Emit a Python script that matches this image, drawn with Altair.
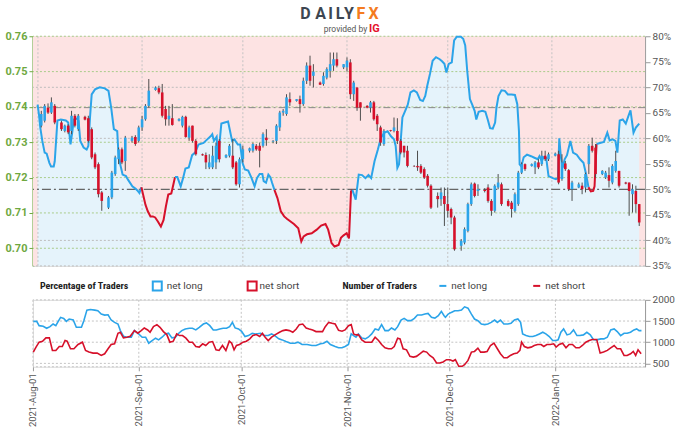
import altair as alt
import pandas as pd

# ---------------- candles (AUD/USD daily) ----------------
candle_date = [
    "2021-08-02","2021-08-03","2021-08-04","2021-08-05","2021-08-06","2021-08-08","2021-08-09","2021-08-10","2021-08-11","2021-08-12","2021-08-13",
    "2021-08-15","2021-08-16","2021-08-17","2021-08-18","2021-08-19","2021-08-20","2021-08-22","2021-08-23","2021-08-24","2021-08-25","2021-08-26","2021-08-27",
    "2021-08-29","2021-08-30","2021-08-31","2021-09-01","2021-09-02","2021-09-03","2021-09-05","2021-09-06","2021-09-07","2021-09-08","2021-09-09","2021-09-10",
    "2021-09-12","2021-09-13","2021-09-14","2021-09-15","2021-09-16","2021-09-17","2021-09-19","2021-09-20","2021-09-21","2021-09-22","2021-09-23","2021-09-24",
    "2021-09-26","2021-09-27","2021-09-28","2021-09-29","2021-09-30","2021-10-01","2021-10-03","2021-10-04","2021-10-05","2021-10-06","2021-10-07","2021-10-08",
    "2021-10-10","2021-10-11","2021-10-12","2021-10-13","2021-10-14","2021-10-15","2021-10-17","2021-10-18","2021-10-19","2021-10-20","2021-10-21","2021-10-22",
    "2021-10-24","2021-10-25","2021-10-26","2021-10-27","2021-10-28","2021-10-29","2021-10-31","2021-11-01","2021-11-02","2021-11-03","2021-11-04","2021-11-05",
    "2021-11-07","2021-11-08","2021-11-09","2021-11-10","2021-11-11","2021-11-12","2021-11-14","2021-11-15","2021-11-16","2021-11-17","2021-11-18","2021-11-19",
    "2021-11-21","2021-11-22","2021-11-23","2021-11-24","2021-11-25","2021-11-26","2021-11-28","2021-11-29","2021-11-30","2021-12-01","2021-12-02","2021-12-03",
    "2021-12-05","2021-12-06","2021-12-07","2021-12-08","2021-12-09","2021-12-10","2021-12-12","2021-12-13","2021-12-14","2021-12-15","2021-12-16","2021-12-17",
    "2021-12-19","2021-12-20","2021-12-21","2021-12-22","2021-12-23","2021-12-24","2021-12-26","2021-12-27","2021-12-28","2021-12-29","2021-12-30","2021-12-31",
    "2022-01-02","2022-01-03","2022-01-04","2022-01-05","2022-01-06","2022-01-07","2022-01-09","2022-01-10","2022-01-11","2022-01-12","2022-01-13","2022-01-14",
    "2022-01-16","2022-01-17","2022-01-18","2022-01-19","2022-01-20","2022-01-21","2022-01-23","2022-01-24","2022-01-25","2022-01-26","2022-01-27",
]
candle_open = [
    .7347,.7361,.7398,.7384,.7403,.7356,.7332,.7347,.7332,.7375,.7337,
    .7372,.7368,.7337,.7266,.7238,.7158,.7115,.7144,.7210,.7252,.7280,.7247,
    .7304,.7315,.7304,.7342,.7365,.7403,.7448,.7453,.7441,.7394,.7365,.7368,
    .7361,.7347,.7372,.7313,.7347,.7304,.7266,.7264,.7229,.7229,.7243,.7304,
    .7257,.7262,.7262,.7243,.7181,.7252,.7276,.7276,.7290,.7290,.7290,.7313,
    .7302,.7304,.7342,.7384,.7380,.7422,.7417,.7422,.7408,.7474,.7517,.7488,
    .7469,.7465,.7483,.7502,.7517,.7535,.7512,.7512,.7526,.7436,.7455,.7413,
    .7403,.7398,.7413,.7375,.7342,.7295,.7334,.7332,.7332,.7304,.7290,.7276,
    .7233,.7233,.7233,.7224,.7205,.7177,.7148,.7139,.7148,.7125,.7111,.7087,
    .7007,.7016,.7049,.7125,.7183,.7162,.7165,.7172,.7134,.7106,.7172,.7181,
    .7134,.7129,.7106,.7125,.7214,.7238,.7233,.7229,.7243,.7238,.7262,.7252,
    .7262,.7266,.7196,.7240,.7221,.7167,.7172,.7177,.7172,.7238,.7290,.7285,
    .7210,.7200,.7207,.7186,.7219,.7219,.7186,.7186,.7153,.7162,.7125,
]
candle_high = [
    .7389,.7408,.7410,.7427,.7408,.7361,.7350,.7351,.7389,.7380,.7380,
    .7375,.7375,.7342,.7271,.7243,.7162,.7148,.7219,.7262,.7285,.7285,.7318,
    .7318,.7320,.7347,.7375,.7408,.7479,.7458,.7460,.7465,.7403,.7403,.7408,
    .7368,.7375,.7375,.7347,.7347,.7309,.7268,.7271,.7266,.7290,.7299,.7309,
    .7266,.7295,.7309,.7247,.7257,.7290,.7285,.7299,.7295,.7299,.7328,.7337,
    .7306,.7351,.7389,.7394,.7436,.7441,.7422,.7432,.7483,.7526,.7545,.7521,
    .7472,.7498,.7512,.7554,.7554,.7554,.7521,.7540,.7535,.7474,.7455,.7413,
    .7405,.7417,.7417,.7380,.7347,.7337,.7335,.7370,.7368,.7309,.7290,.7290,
    .7235,.7276,.7238,.7229,.7210,.7181,.7158,.7172,.7172,.7172,.7115,.7092,
    .7026,.7059,.7129,.7186,.7186,.7181,.7170,.7181,.7139,.7181,.7210,.7186,
    .7139,.7134,.7158,.7219,.7243,.7240,.7240,.7247,.7252,.7276,.7276,.7271,
    .7271,.7276,.7266,.7247,.7224,.7191,.7186,.7186,.7214,.7295,.7313,.7295,
    .7221,.7219,.7229,.7238,.7276,.7219,.7188,.7186,.7181,.7177,.7125,
]
candle_low = [
    .7342,.7356,.7380,.7380,.7351,.7332,.7328,.7323,.7323,.7342,.7332,
    .7362,.7299,.7252,.7224,.7144,.7106,.7111,.7139,.7205,.7238,.7238,.7219,
    .7299,.7290,.7299,.7332,.7361,.7398,.7446,.7436,.7370,.7347,.7347,.7347,
    .7359,.7342,.7313,.7304,.7299,.7262,.7262,.7224,.7224,.7224,.7224,.7243,
    .7255,.7257,.7224,.7177,.7172,.7243,.7271,.7271,.7276,.7229,.7285,.7290,
    .7297,.7295,.7332,.7375,.7375,.7403,.7415,.7384,.7403,.7465,.7460,.7455,
    .7462,.7460,.7478,.7483,.7502,.7512,.7507,.7500,.7422,.7417,.7389,.7361,
    .7396,.7384,.7361,.7332,.7290,.7290,.7330,.7328,.7295,.7266,.7257,.7229,
    .7230,.7219,.7210,.7196,.7172,.7111,.7115,.7120,.7063,.7087,.7068,.6993,
    .6993,.7011,.7045,.7120,.7144,.7148,.7158,.7129,.7092,.7101,.7167,.7120,
    .7118,.7087,.7101,.7120,.7210,.7219,.7231,.7210,.7224,.7233,.7247,.7247,
    .7260,.7181,.7191,.7219,.7162,.7134,.7170,.7153,.7158,.7210,.7271,.7200,
    .7207,.7196,.7172,.7181,.7214,.7172,.7181,.7092,.7101,.7101,.7063,
]
candle_close = [
    .7380,.7403,.7384,.7413,.7356,.7337,.7347,.7328,.7375,.7347,.7375,
    .7364,.7304,.7257,.7229,.7153,.7134,.7144,.7214,.7257,.7280,.7243,.7313,
    .7313,.7295,.7342,.7365,.7403,.7446,.7455,.7441,.7375,.7365,.7375,.7349,
    .7366,.7372,.7315,.7342,.7304,.7266,.7263,.7243,.7243,.7262,.7290,.7252,
    .7264,.7290,.7229,.7181,.7252,.7280,.7283,.7295,.7280,.7276,.7323,.7306,
    .7304,.7347,.7384,.7389,.7427,.7413,.7422,.7408,.7474,.7517,.7474,.7500,
    .7463,.7488,.7507,.7521,.7535,.7517,.7521,.7531,.7436,.7469,.7398,.7398,
    .7398,.7413,.7365,.7351,.7299,.7332,.7332,.7342,.7304,.7271,.7271,.7233,
    .7232,.7229,.7214,.7200,.7177,.7115,.7139,.7158,.7125,.7106,.7087,.6997,
    .7021,.7054,.7125,.7181,.7148,.7167,.7162,.7134,.7106,.7177,.7186,.7125,
    .7120,.7111,.7153,.7214,.7238,.7224,.7238,.7243,.7229,.7262,.7252,.7266,
    .7268,.7186,.7243,.7224,.7167,.7186,.7181,.7167,.7210,.7290,.7276,.7210,
    .7219,.7214,.7191,.7233,.7247,.7177,.7183,.7162,.7167,.7125,.7073,
]

# ---------------- client sentiment: % of traders net long (days after 2021-08-01) ----------------
sent_day = [
    -0.1,0.3,0.7,1.3,2.0,2.6,3.4,3.9,4.7,5.0,5.4,5.8,6.8,8.3,9.0,9.7,10.2,10.7,11.7,12.1,12.6,13.6,14.5,15.0,15.5,16.0,17.0,18.4,19.9,21.0,
    21.8,22.6,23.6,23.9,24.5,25.2,26.2,26.8,28.1,29.1,29.6,30.2,30.8,
    31.3,32.0,32.7,33.5,34.2,34.9,35.7,36.6,37.4,38.1,38.8,39.7,40.3,40.8,
    41.5,42.5,43.2,43.9,44.9,45.9,46.8,47.8,49.3,50.4,51.4,51.9,52.4,53.2,53.6,54.6,55.6,56.6,57.2,57.8,58.5,59.5,60.2,60.9,61.6,62.6,63.6,
    64.5,65.2,66.0,66.8,67.2,67.9,68.6,69.2,69.7,70.4,
    71.3,72.3,73.3,74.2,75.2,76.2,77.5,78.4,79.1,80.1,81.5,83.0,84.3,85.6,86.4,87.4,88.3,89.5,90.2,91.0,91.9,92.6,93.2,93.6,
    94.6,95.5,96.5,97.5,98.4,99.2,100.2,101.2,102.1,103.1,104.1,105.1,106.0,106.5,107.0,107.5,108.0,108.5,109.2,110.1,110.9,111.9,112.8,
    113.8,114.6,115.3,115.9,116.7,117.5,118.5,119.6,120.3,121.0,121.6,122.3,123.2,123.9,124.7,125.9,126.6,127.2,127.8,128.6,129.4,130.0,
    130.5,131.2,132.3,133.2,133.9,134.6,135.4,136.1,136.5,137.1,138.0,139.0,139.9,141.0,142.0,142.7,143.2,143.4,143.9,144.6,145.6,146.8,
    147.8,148.8,149.3,150.0,150.5,151.3,152.0,153.3,154.2,154.8,155.2,155.7,156.2,156.8,157.5,158.5,159.3,160.4,161.4,162.4,163.2,163.9,
    164.6,165.3,165.7,166.3,
    167.3,168.5,169.5,170.2,171.1,171.9,172.5,173.2,174.1,175.0,175.8,176.4,177.3,178.0,179.0,
]
sent_pct = [
    66.6,64.7,62.1,59.5,57.2,57.0,55.2,54.5,54.5,55.5,59.5,63.5,63.7,63.5,63.1,58.8,61.1,63.7,63.9,63.4,59.5,58.2,57.8,58.5,64.1,68.6,69.6,70.0,69.8,69.3,
    66.0,61.8,61.4,57.8,54.9,52.9,52.6,51.9,50.6,50.1,49.8,49.3,50.4,
    49.0,47.0,45.7,44.7,44.7,44.5,43.7,42.7,44.0,46.7,49.0,49.2,50.9,52.4,
    52.4,50.6,52.2,54.1,54.3,56.7,57.2,58.8,59.1,59.8,60.4,60.8,59.5,60.3,55.9,62.9,63.1,63.3,61.4,59.5,59.8,58.8,58.8,55.2,53.9,53.7,52.2,
    50.6,52.2,53.0,53.0,51.6,51.3,52.9,52.4,51.3,49.9,
    48.3,45.7,44.7,44.2,43.7,43.2,42.4,39.8,40.8,41.2,41.4,42.1,42.9,43.2,42.1,39.5,38.8,39.1,40.5,41.0,41.4,40.4,49.6,49.9,
    48.0,52.9,52.8,52.2,52.8,52.2,55.5,57.8,60.1,61.1,61.4,60.4,59.8,58.5,54.2,54.9,59.5,64.1,65.2,66.6,69.0,69.4,69.0,
    67.5,67.3,68.3,70.3,72.6,75.2,75.9,75.5,75.1,74.6,72.9,74.6,74.9,79.2,79.9,79.9,79.5,78.2,73.2,67.7,66.4,65.4,
    63.7,65.2,65.4,65.2,63.7,62.0,61.9,63.1,66.0,68.3,69.4,69.3,68.6,68.6,68.5,66.7,61.4,54.9,54.5,56.3,56.8,56.5,
    56.2,55.9,56.5,55.5,56.3,56.2,52.6,52.2,52.0,52.2,60.0,56.2,54.2,55.9,56.7,59.5,57.2,56.8,55.9,55.2,52.9,50.4,
    49.6,49.7,50.6,58.9,
    59.1,59.3,61.1,59.6,59.8,59.5,57.2,63.5,63.7,62.9,64.4,65.5,61.1,62.1,62.9,
]
sent_side = (["long"] * 43 + ["short"] * 14 + ["long"] * 37 + ["short"] * 24
             + ["long"] * 89 + ["short"] * 4 + ["long"] * 15)

# ---------------- number of traders (days after 2021-08-01) ----------------
long_day = [
    0.1,1.1,1.8,3.0,4.0,5.0,5.9,6.7,7.4,8.1,9.0,9.8,10.6,11.8,12.7,14.2,14.9,15.8,16.8,18.1,19.0,20.0,21.0,22.0,22.9,23.9,24.9,25.6,26.5,27.5,
    28.8,29.7,30.7,32.0,33.0,33.9,34.9,35.9,36.8,37.8,38.8,39.7,40.7,41.7,42.7,43.6,44.6,45.8,46.7,47.7,48.7,49.9,50.8,51.8,52.8,53.7,54.7,
    55.7,56.7,57.6,58.4,59.2,60.2,61.1,62.1,63.1,64.2,65.2,66.7,67.6,68.9,69.9,70.8,72.0,73.0,74.1,75.4,76.7,77.6,78.8,80.3,81.7,82.9,84.2,
    85.1,86.1,87.1,88.5,89.5,90.5,91.4,92.4,93.2,93.9,94.6,95.3,96.3,97.3,98.2,99.2,100.2,101.2,102.1,103.1,104.1,105.0,106.0,106.8,107.8,
    108.7,109.7,110.7,111.7,112.6,113.8,114.8,115.7,116.7,117.7,118.7,119.6,120.4,120.8,121.6,122.5,123.5,124.5,125.5,126.4,127.4,128.4,
    129.3,130.3,131.3,132.3,133.2,134.2,135.2,136.0,136.9,137.9,139.1,140.0,141.0,142.0,142.8,143.4,144.4,145.4,146.4,147.3,148.3,149.3,
    150.2,151.2,152.2,153.2,153.8,154.6,155.4,156.4,157.3,158.3,159.3,160.2,161.2,162.2,163.2,164.1,165.1,166.3,167.2,168.2,169.2,170.2,
    171.1,172.1,173.1,174.0,175.0,176.0,176.8,177.5,178.2,
]
long_cnt = [
    1493,1493,1391,1376,1329,1368,1430,1391,1493,1587,1563,1493,1548,1524,1352,1352,1509,1758,1774,1758,1743,1665,1641,1649,1524,1469,1430,1274,1141,1118,
    1118,1274,1212,1118,1118,977,1040,1095,1055,1118,1196,1212,1102,1118,1212,1274,1313,1329,1329,1290,1352,1430,1454,1391,1290,1290,1313,
    1329,1329,1368,1469,1337,1313,1259,1134,1157,1212,1196,1212,1157,1157,1196,1157,1079,1055,1016,977,977,1001,946,946,923,923,962,
    977,1024,946,899,868,868,899,946,1196,1157,1118,1196,1102,1079,1118,1196,1313,1290,1415,1274,1274,1337,1290,1368,1524,
    1563,1509,1509,1563,1641,1641,1665,1680,1587,1571,1626,1727,1626,1587,1665,1704,1743,1743,1758,1836,1805,1665,
    1548,1509,1430,1415,1430,1469,1524,1469,1524,1430,1430,1446,1524,1548,1469,1196,1157,1134,1134,1157,1196,1235,
    1196,1134,1040,1040,1055,1235,1313,1173,1196,1290,1157,1157,1173,1235,1173,1063,1055,1079,1079,1118,1290,1313,
    1251,1157,1212,1212,1235,1290,1313,1274,1274,
]
short_day = [
    0.1,0.9,1.8,2.8,3.8,4.8,5.7,6.7,7.7,8.6,9.4,10.0,11.0,12.0,13.2,14.5,15.4,16.4,17.6,18.8,20.0,21.0,22.0,22.9,23.9,24.9,25.6,26.5,27.5,28.5,
    29.7,30.7,31.7,32.6,33.6,34.3,35.3,36.3,37.2,38.2,39.2,40.1,41.1,42.1,42.9,43.8,44.8,45.8,46.7,47.7,48.7,49.7,50.6,51.6,52.6,53.6,54.5,
    55.5,56.5,57.5,58.2,58.9,59.6,60.5,61.5,62.5,63.5,64.4,65.4,66.4,67.2,68.0,68.9,69.9,71.0,72.2,73.2,74.1,75.1,76.1,77.1,78.0,79.0,80.0,
    80.9,81.9,82.9,83.9,84.8,85.6,86.6,87.6,88.5,89.5,90.5,91.4,92.4,93.2,93.9,94.6,95.3,96.3,97.3,98.2,99.2,100.2,101.2,102.1,103.1,104.1,
    105.0,105.8,106.8,107.5,108.4,109.4,110.4,111.4,112.3,113.3,114.3,115.3,116.2,117.2,118.2,119.1,120.1,121.1,122.1,123.0,123.7,124.7,
    125.7,126.4,127.4,128.4,129.3,130.3,131.1,132.1,133.0,134.0,135.0,136.0,136.9,137.9,138.9,139.8,140.8,141.8,142.6,143.1,143.9,144.9,
    145.9,146.8,147.8,148.8,149.6,150.5,151.5,152.5,153.2,154.1,155.1,156.1,157.0,158.0,159.0,160.0,160.9,161.9,162.9,163.8,165.1,166.1,
    167.1,168.2,169.2,170.2,171.1,172.1,173.1,174.0,175.0,175.8,176.5,177.2,178.1,
]
short_cnt = [
    767,884,1001,1024,1102,1102,806,806,899,899,1040,1024,845,845,946,1001,806,767,743,743,688,727,845,946,962,1212,1235,1102,1118,1141,
    1274,1212,1274,1337,1290,1235,1368,1415,1352,1251,1180,1001,1024,1196,1157,1157,1095,1001,1001,899,884,962,923,1001,1016,821,806,
    923,806,1024,977,821,923,946,1001,1024,1079,1157,1180,1134,1212,1118,1040,1118,1180,1235,1274,1290,1274,1235,1313,1415,1430,1337,
    1313,1290,1251,1251,1251,1368,1469,1446,1430,1280,1259,1290,1391,1415,1196,1173,1180,1055,1001,1001,1001,1118,1040,946,868,845,
    845,899,1095,1079,845,821,665,649,665,727,790,767,688,634,509,509,532,587,587,556,587,431,
    431,470,571,767,782,860,767,767,782,923,977,845,727,634,634,688,727,743,806,1001,899,868,
    884,923,946,946,899,946,946,962,884,946,977,868,946,946,868,868,923,1001,1040,1063,1063,743,
    767,806,868,923,845,845,688,688,727,782,688,821,727,
]

# ---------------- axes / reference values ----------------
price_ticks = [0.70, 0.71, 0.72, 0.73, 0.74, 0.75, 0.76]
pct_ticks = [35, 40, 45, 50, 55, 60, 65, 70, 75, 80]
pct_grid = [35, 40, 60, 70]
count_ticks = [500, 1000, 1500, 2000]
month_starts = ["2021-08-01", "2021-09-01", "2021-10-01", "2021-11-01", "2021-12-01", "2022-01-01"]

# ---------------- frames ----------------
BASE = pd.Timestamp("2021-08-01")
candles = pd.DataFrame({"date": pd.to_datetime(candle_date), "open": candle_open, "high": candle_high,
                        "low": candle_low, "close": candle_close})
candles["dir"] = ["up" if c >= o else "down" for o, c in zip(candles["open"], candles["close"])]

sent = pd.DataFrame({"date": BASE + pd.to_timedelta(sent_day, unit="D"), "pct": sent_pct, "side": sent_side})
rows, seg, prev = [], 0, None
for r in sent.itertuples():
    if prev is not None and r.side != prev.side:
        seg += 1
        rows.append({"date": prev.date, "pct": prev.pct, "side": r.side, "seg": seg})
    rows.append({"date": r.date, "pct": r.pct, "side": r.side, "seg": seg})
    prev = r
sent_seg = pd.DataFrame(rows)

counts = pd.concat([
    pd.DataFrame({"date": BASE + pd.to_timedelta(long_day, unit="D"), "n": long_cnt, "side": "long"}),
    pd.DataFrame({"date": BASE + pd.to_timedelta(short_day, unit="D"), "n": short_cnt, "side": "short"}),
])
months = pd.DataFrame({"date": pd.to_datetime(month_starts)})
one = pd.DataFrame({"a": [0]})

# ---------------- style ----------------
W, H1, H2 = 613, 230, 67
BLUE, RED = "#2ba4e9", "#d6102a"
PINK, LIGHTBLUE = "#fde3e3", "#e5f3fb"
GREEN_UP, RED_DN, WICK = "#3b7b22", "#d4111d", "#4d4d4d"
AXGREEN = "#6fa83f"
FONT = "Roboto"
NARROW = "Liberation Sans Narrow, Roboto Condensed, DejaVu Sans Condensed, Roboto"

x_dom = [alt.DateTime(year=2021, month=8, date=1), alt.DateTime(year=2022, month=1, date=27, hours=6)]
xs = alt.Scale(domain=x_dom)
X = alt.X("date:T", scale=xs, axis=None)


def price_y(field, axis=None):
    return alt.Y(field, scale=alt.Scale(domain=[0.695, 0.76], nice=False, zero=False), axis=axis)


def pct_y(field, axis=None):
    return alt.Y(field, scale=alt.Scale(domain=[35, 80], nice=False, zero=False), axis=axis)


side_color = alt.Color("side:N", scale=alt.Scale(domain=["long", "short"], range=[BLUE, RED]), legend=None)

left_axis = alt.Axis(orient="left", values=price_ticks, format=".2f", labelColor=AXGREEN, labelFontWeight="bold",
                     labelFontSize=11, labelFont=FONT, domainColor=AXGREEN, domainWidth=2, tickColor=AXGREEN,
                     tickSize=4, labelPadding=2, grid=False, title=None)
right_axis = alt.Axis(orient="right", values=pct_ticks, labelExpr="datum.value + '%'", labelColor="#555555",
                      labelFontSize=10, labelFont=FONT, domainColor="#9a9a9a", tickColor="#9a9a9a", tickSize=5,
                      labelPadding=2, grid=False, title=None)

# background, sentiment area, grids
bg = alt.Chart(one).mark_rect(color=PINK).encode(x=alt.value(0), x2=alt.value(W), y=alt.value(0), y2=alt.value(H1))
area = alt.Chart(sent).mark_area(color=LIGHTBLUE, opacity=1).encode(x=X, y=pct_y("pct:Q"), y2=alt.datum(35))
pgrid = alt.Chart(pd.DataFrame({"pct": pct_grid})).mark_rule(color="#bdbdbd", strokeDash=[2, 2]).encode(
    y=pct_y("pct:Q"))
vgrid = alt.Chart(months).mark_rule(color="#c4c4c4", strokeDash=[2, 2]).encode(x=X)
prgrid = alt.Chart(pd.DataFrame({"price": price_ticks})).mark_rule(color="#a9cc8a", strokeDash=[2, 2]).encode(
    y=price_y("price:Q", left_axis))
lvl = alt.Chart(pd.DataFrame({"price": [0.7398]})).mark_rule(color="#8a8a8a", strokeDash=[7, 3, 2, 3]).encode(
    y=price_y("price:Q"))
mid = alt.Chart(pd.DataFrame({"pct": [50]})).mark_rule(color="#666666", strokeDash=[9, 3, 2, 3], strokeWidth=1.3).encode(
    y=pct_y("pct:Q", right_axis))
sline = alt.Chart(sent_seg).mark_line(strokeWidth=2).encode(
    x=X, y=pct_y("pct:Q"), color=side_color, detail="seg:N")
wick = alt.Chart(candles).mark_rule(color=WICK, strokeWidth=1).encode(x=X, y=price_y("low:Q"), y2="high:Q")
body = alt.Chart(candles).mark_bar(size=2.6).encode(
    x=X, y=price_y("open:Q"), y2="close:Q",
    color=alt.Color("dir:N", scale=alt.Scale(domain=["up", "down"], range=[GREEN_UP, RED_DN]), legend=None))

# logo (DAILYFX provided by IG)
logo_letters = ["D", "A", "I", "L", "Y", "F", "X"]
logo_x = [273, 288, 298, 307.5, 316.5, 328.5, 341]
logo_layers = []
for ch, lx in zip(logo_letters, logo_x):
    logo_layers.append(alt.Chart(one).mark_text(
        text=ch, font=FONT, fontSize=16, fontWeight="bold",
        color="#f47b20" if ch in "FX" else "#3d4651", align="center", baseline="middle"
    ).encode(x=alt.value(lx), y=alt.value(-22)))
logo_layers.append(alt.Chart(one).mark_text(text="provided by", font=FONT, fontSize=8.5, color="#555555",
                                            align="center", baseline="middle").encode(x=alt.value(313), y=alt.value(-7)))
logo_layers.append(alt.Chart(one).mark_text(text="IG", font=FONT, fontSize=11, fontWeight="bold", color="#e4142c",
                                            align="center", baseline="middle").encode(x=alt.value(342), y=alt.value(-7)))

top = alt.layer(bg, area, pgrid, vgrid, prgrid, lvl, mid, sline, wick, body, *logo_layers).resolve_scale(
    y="independent").properties(width=W, height=H1)

# ---------------- bottom panel ----------------
xb = alt.X("date:T", scale=xs, axis=alt.Axis(
    values=[alt.DateTime(year=int(m[:4]), month=int(m[5:7]), date=1) for m in month_starts],
    format="%Y-%b-%d", labelAngle=270, labelColor="#555555", labelFontSize=9.5, labelFont=FONT,
    domain=False, tickColor="#9a9a9a", tickSize=4, labelPadding=2, grid=False, title=None))
count_axis = alt.Axis(orient="right", values=count_ticks, format="d", labelColor="#555555", labelFontSize=10,
                      labelFont=FONT, domainColor="#9a9a9a", tickColor="#9a9a9a", tickSize=5, labelPadding=2,
                      grid=False, title=None)
count_scale = alt.Scale(domain=[420, 2000], nice=False, zero=False)
cgrid = alt.Chart(pd.DataFrame({"n": count_ticks + [420]})).mark_rule(color="#c4c4c4", strokeDash=[2, 2]).encode(
    y=alt.Y("n:Q", scale=count_scale, axis=count_axis))
bvgrid = alt.Chart(months).mark_rule(color="#c4c4c4", strokeDash=[2, 2]).encode(x=xb)
clines = alt.Chart(counts).mark_line(strokeWidth=1.6).encode(
    x=xb, y=alt.Y("n:Q", scale=count_scale, axis=count_axis), color=side_color, detail="side:N")

LY = -14


def txt(t, x, bold=False, font=FONT):
    return alt.Chart(one).mark_text(text=t, font=font, fontSize=10, fontWeight="bold" if bold else "normal",
                                    color="#222222" if bold else "#444444", align="left",
                                    baseline="middle").encode(x=alt.value(x), y=alt.value(LY))


def box(x, col):
    return alt.Chart(one).mark_rect(fill="white", stroke=col, strokeWidth=2).encode(
        x=alt.value(x), x2=alt.value(x + 9), y=alt.value(LY - 4.5), y2=alt.value(LY + 4.5))


def seg_line(x, col):
    return alt.Chart(one).mark_rule(color=col, strokeWidth=2).encode(
        x=alt.value(x), x2=alt.value(x + 7), y=alt.value(LY))


legend = [
    txt("Percentage of Traders", 7, True, NARROW), box(120, BLUE), txt("net long", 134),
    box(215, RED), txt("net short", 227),
    txt("Number of Traders", 310, True, NARROW), seg_line(407, BLUE), txt("net long", 419),
    seg_line(501, RED), txt("net short", 513),
]

bottom = alt.layer(cgrid, bvgrid, clines, *legend).properties(width=W, height=H2)

chart = alt.vconcat(top, bottom, spacing=8).properties(
    padding={"left": 4, "top": 5, "right": 5, "bottom": 0}
).configure_view(strokeWidth=0).configure(font=FONT)

chart.save("out.html", embed_options={"renderer": "svg", "actions": False})
